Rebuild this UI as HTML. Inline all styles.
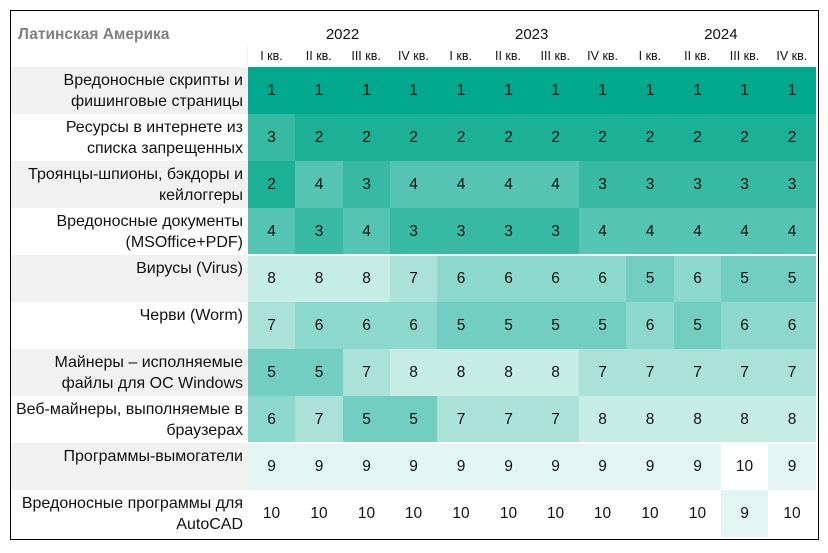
<!DOCTYPE html>
<html><head><meta charset="utf-8"><style>
body{margin:0;width:828px;height:553px;background:#fff;font-family:"Liberation Sans",sans-serif;position:relative;overflow:hidden}
.box{position:absolute;left:10px;top:10px;width:807px;height:528px;border:1px solid #000}
.t{position:absolute;left:18px;top:26px;font-size:15.5px;font-weight:bold;color:#808080}
.y{position:absolute;top:26px;font-size:15px;color:#111;text-align:center;width:189px}
.q{position:absolute;top:49px;font-size:12.5px;color:#111;text-align:center;width:47px}
.r{position:absolute;left:11px;width:237px;height:47px}
.lab{position:absolute;left:0;width:232px;height:44px;padding-top:3px;text-align:right;font-size:16px;line-height:21px;color:#111}
.c{position:absolute;height:47px;width:48px;display:flex;align-items:center;justify-content:center;font-size:15.5px;color:#111}
</style></head><body>
<div class="box"></div>
<div class="t">Латинская Америка</div>
<div id="h"></div>
<div id="g"></div>
<script>
(function(){
var cols=["#00a88e","#1cb097","#38b9a4","#55c4b3","#71cec0","#8dd8cc","#aae2d9","#c6ece6","#e3f5f2","#ffffff"];
var labels=["Вредоносные скрипты и<br>фишинговые страницы","Ресурсы в интернете из<br>списка запрещенных","Троянцы-шпионы, бэкдоры и<br>кейлоггеры","Вредоносные документы<br>(MSOffice+PDF)","Вирусы (Virus)","Черви (Worm)","Майнеры – исполняемые<br>файлы для ОС Windows","Веб-майнеры, выполняемые в<br>браузерах","Программы-вымогатели","Вредоносные программы для<br>AutoCAD"];
var data=[[1,1,1,1,1,1,1,1,1,1,1,1],[3,2,2,2,2,2,2,2,2,2,2,2],[2,4,3,4,4,4,4,3,3,3,3,3],[4,3,4,3,3,3,3,4,4,4,4,4],[8,8,8,7,6,6,6,6,5,6,5,5],[7,6,6,6,5,5,5,5,6,5,6,6],[5,5,7,8,8,8,8,7,7,7,7,7],[6,7,5,5,7,7,7,8,8,8,8,8],[9,9,9,9,9,9,9,9,9,9,10,9],[10,10,10,10,10,10,10,10,10,10,9,10]];
var h="",q=["I кв.","II кв.","III кв.","IV кв."],cw=47.3,x0=248;
["2022","2023","2024"].forEach(function(y,i){h+='<div class="y" style="left:'+(x0+i*4*cw)+'px">'+y+'</div>';});
for(var j=0;j<12;j++)h+='<div class="q" style="left:'+(x0+j*cw)+'px">'+q[j%4]+'</div>';
h+='<div style="position:absolute;left:247px;top:45px;width:1px;height:22px;background:#f0f0f0"></div>';
document.getElementById("h").innerHTML=h;
var g="";
for(var i=0;i<10;i++){var ty=67+i*47;
g+='<div class="r" style="top:'+ty+'px;background:'+(i%2==0?"#f1f1f1":"#fff")+'"></div>';
g+='<div class="r" style="top:'+ty+'px"><div class="lab">'+labels[i]+'</div></div>';
for(var j=0;j<12;j++){var v=data[i][j];var l=Math.round(x0+j*cw);var w=(j==11?816-l:Math.round(x0+(j+1)*cw)-l);g+='<div class="c" style="top:'+ty+'px;left:'+l+'px;width:'+w+'px;background:'+cols[v-1]+'">'+v+'</div>';}
if(i==4||i==8)g+='<div style="position:absolute;left:248px;top:'+(ty-1)+'px;width:568px;height:1.5px;background:#fff"></div>';
}
document.getElementById("g").innerHTML=g;
})();
</script>
</body></html>
